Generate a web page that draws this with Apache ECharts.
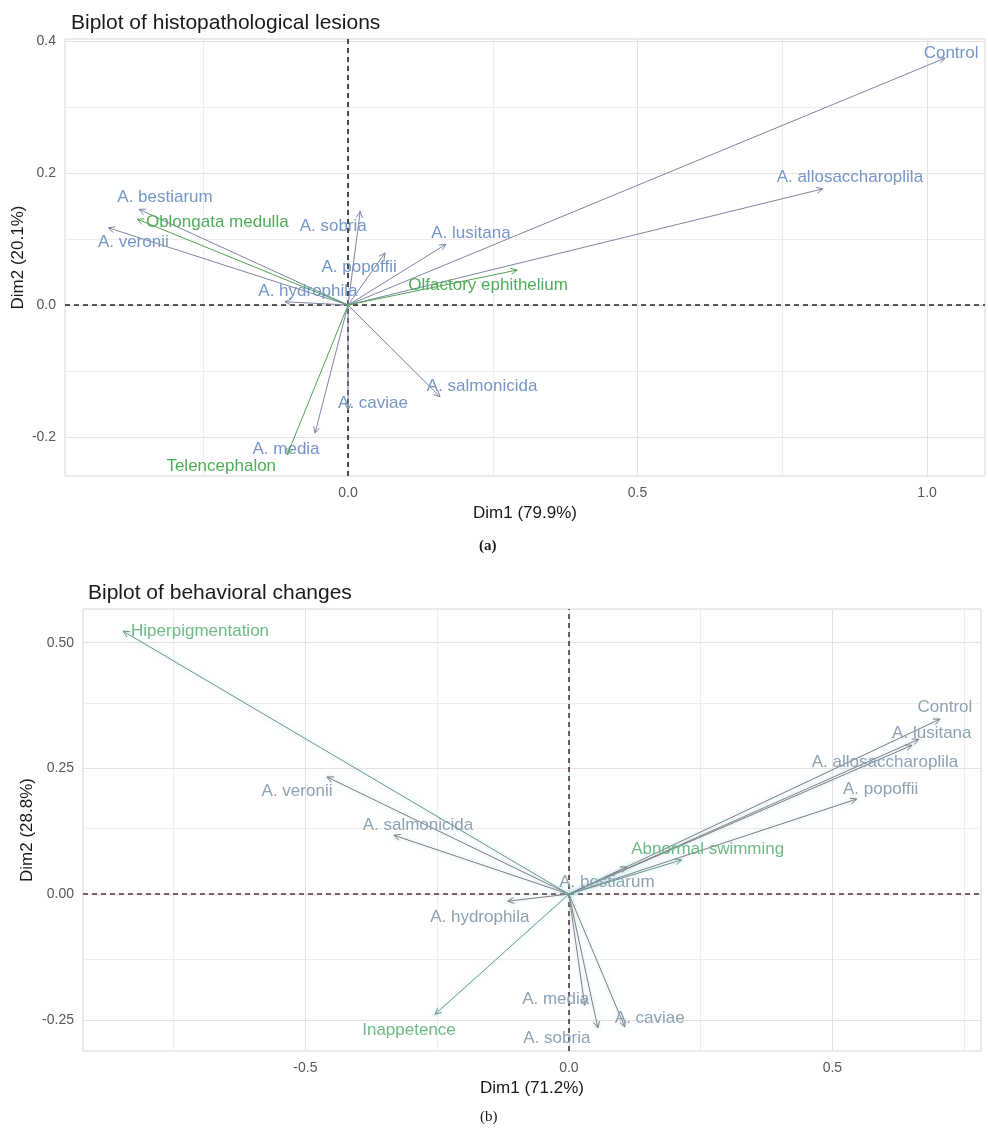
<!DOCTYPE html>
<html>
<head>
<meta charset="utf-8">
<script src="https://cdn.jsdelivr.net/npm/echarts@6/dist/echarts.min.js"></script>
<style>
  html, body { margin: 0; padding: 0; background: #ffffff; }
  #chart { width: 988px; height: 1129px; }
</style>
</head>
<body>
<div id="chart"></div>
<script>
// ---- Biplot (a): histopathological lesions ----
const histoSpecies = ['Control', 'A. allosaccharoplila', 'A. bestiarum', 'A. veronii', 'A. sobria',
  'A. lusitana', 'A. popoffii', 'A. hydrophila', 'A. media', 'A. caviae', 'A. salmonicida'];
const histoSpeciesDim1 = [1.031, 0.820, -0.361, -0.414, 0.021, 0.169, 0.064, -0.109, -0.057, 0.000, 0.159];
const histoSpeciesDim2 = [0.374, 0.176, 0.145, 0.117, 0.142, 0.092, 0.079, 0.005, -0.194, -0.159, -0.139];
const histoLesions = ['Oblongata medulla', 'Olfactory ephithelium', 'Telencephalon'];
const histoLesionsDim1 = [-0.364, 0.292, -0.105];
const histoLesionsDim2 = [0.130, 0.053, -0.227];
const histoXTicks = [0.0, 0.5, 1.0];
const histoXMinor = [-0.25, 0.25, 0.75];
const histoYTicks = [-0.2, 0.0, 0.2, 0.4];
const histoYMinor = [-0.1, 0.1, 0.3];

// ---- Biplot (b): behavioral changes ----
const behavSpecies = ['Control', 'A. lusitana', 'A. allosaccharoplila', 'A. popoffii', 'A. bestiarum',
  'A. veronii', 'A. salmonicida', 'A. hydrophila', 'A. media', 'A. sobria', 'A. caviae'];
const behavSpeciesDim1 = [0.704, 0.664, 0.651, 0.546, 0.110, -0.459, -0.332, -0.116, 0.030, 0.055, 0.106];
const behavSpeciesDim2 = [0.348, 0.308, 0.296, 0.189, 0.054, 0.233, 0.117, -0.014, -0.221, -0.266, -0.264];
const behavChanges = ['Hiperpigmentation', 'Abnormal swimming', 'Inappetence'];
const behavChangesDim1 = [-0.846, 0.214, -0.254];
const behavChangesDim2 = [0.523, 0.068, -0.239];
const behavXTicks = [-0.5, 0.0, 0.5];
const behavXMinor = [-0.75, -0.25, 0.25, 0.75];
const behavYTicks = [-0.25, 0.0, 0.25, 0.50];
const behavYMinor = [-0.125, 0.125, 0.375];

// Label nudges (pixels) so the names sit clear of the arrow heads
const labelNudge = {
  a: {
    'Control': [6, -5], 'A. allosaccharoplila': [27, -12], 'A. bestiarum': [26, -12],
    'A. veronii': [25, 15], 'A. sobria': [-27, 15], 'A. lusitana': [25, -11],
    'A. popoffii': [-26, 14], 'A. hydrophila': [23, -10], 'A. media': [-29, 16],
    'A. caviae': [25, -7], 'A. salmonicida': [42, -10],
    'Oblongata medulla': [80, 3], 'Olfactory ephithelium': [-29, 15], 'Telencephalon': [-66, 11]
  },
  b: {
    'Control': [5, -12], 'A. lusitana': [13, -6], 'A. allosaccharoplila': [-27, 17],
    'A. popoffii': [24, -10], 'A. bestiarum': [-20, 15], 'A. veronii': [-30, 14],
    'A. salmonicida': [24, -10], 'A. hydrophila': [-28, 16], 'A. media': [-29, -6],
    'A. sobria': [-41, 10], 'A. caviae': [25, -9],
    'Hiperpigmentation': [77, 0], 'Abnormal swimming': [26, -11], 'Inappetence': [-26, 16]
  }
};

const LABEL_FONT = '17px "Liberation Sans", Arial, sans-serif';

function pairs(xs, ys) { return xs.map((x, i) => [x, ys[i]]); }

// Arrow from the origin to each loading, with an open chevron head and its name
function arrowRenderer(names, nudges, lineColor, textColor, glow) {
  return function (params, api) {
    const i = params.dataIndex;
    const o = api.coord([0, 0]);
    const p = api.coord([api.value(0), api.value(1)]);
    const ang = Math.atan2(p[1] - o[1], p[0] - o[0]);
    const len = 7, spread = Math.PI / 7;
    const h1 = [p[0] - len * Math.cos(ang - spread), p[1] - len * Math.sin(ang - spread)];
    const h2 = [p[0] - len * Math.cos(ang + spread), p[1] - len * Math.sin(ang + spread)];
    const nd = nudges[names[i]] || [0, 0];
    const halo = glow ? { shadowBlur: 4, shadowColor: glow } : {};
    return {
      type: 'group',
      children: [
        { type: 'line', shape: { x1: o[0], y1: o[1], x2: p[0], y2: p[1] },
          style: Object.assign({ stroke: lineColor, lineWidth: 1 }, halo) },
        { type: 'polyline', shape: { points: [h1, p, h2] },
          style: Object.assign({ stroke: lineColor, fill: null, lineWidth: 1 }, halo) },
        { type: 'text', x: p[0] + nd[0], y: p[1] + nd[1],
          style: Object.assign({ text: names[i], fill: textColor, font: LABEL_FONT,
            align: 'center', verticalAlign: 'middle' }, halo) }
      ]
    };
  };
}

// Grid lines (major + minor) and the dashed zero lines, drawn through the axes
function gridMarks(xMajor, xMinor, yMajor, yMinor, zeroColor) {
  const data = [];
  xMinor.forEach(v => data.push({ xAxis: v, lineStyle: { color: '#f0ecec', width: 1, type: 'solid' } }));
  yMinor.forEach(v => data.push({ yAxis: v, lineStyle: { color: '#f0ecec', width: 1, type: 'solid' } }));
  xMajor.forEach(v => data.push({ xAxis: v, lineStyle: { color: '#e6e0e0', width: 1, type: 'solid' } }));
  yMajor.forEach(v => data.push({ yAxis: v, lineStyle: { color: '#e6e0e0', width: 1, type: 'solid' } }));
  data.push({ xAxis: 0, lineStyle: { color: zeroColor, width: 1.6, type: [5, 4] } });
  data.push({ yAxis: 0, lineStyle: { color: zeroColor, width: 1.6, type: [5, 4] } });
  return { silent: true, z: 1, symbol: ['none', 'none'], label: { show: false }, data: data };
}

function valueAxis(idx, min, max, ticks, digits, name, nameGap, isY) {
  const ax = {
    type: 'value', gridIndex: idx, min: min, max: max,
    name: name, nameLocation: 'middle', nameGap: nameGap, nameMoveOverlap: false,
    nameTextStyle: { fontSize: 17, color: '#1a1a1a', fontFamily: '"Liberation Sans", Arial, sans-serif' },
    axisLine: { show: false },
    axisTick: { show: true, length: 4, lineStyle: { color: '#bdb3b3' }, customValues: ticks },
    axisLabel: { customValues: ticks, fontSize: 14, color: '#5e5555', margin: isY ? 9 : 10,
      fontFamily: '"Liberation Sans", Arial, sans-serif',
      formatter: v => Number(v).toFixed(digits) },
    splitLine: { show: false }
  };
  if (isY) ax.nameRotate = 90;
  return ax;
}

const chart = echarts.init(document.getElementById('chart'), null, { renderer: 'canvas' });

chart.setOption({
  backgroundColor: '#ffffff',
  animation: false,
  title: [
    { text: 'Biplot of histopathological lesions', left: 66, top: 8,
      textStyle: { fontSize: 21, fontWeight: 'normal', color: '#1a1a1a', fontFamily: '"Liberation Sans", Arial, sans-serif' } },
    { text: 'Biplot of behavioral changes', left: 83, top: 578,
      textStyle: { fontSize: 21, fontWeight: 'normal', color: '#1a1a1a', fontFamily: '"Liberation Sans", Arial, sans-serif' } }
  ],
  grid: [
    { left: 65, top: 39, width: 920, height: 437, show: true, borderColor: '#dcd3d3', borderWidth: 1,
      backgroundColor: '#ffffff', containLabel: false, outerBoundsMode: 'none' },
    { left: 83, top: 609, width: 898, height: 442, show: true, borderColor: '#dcd3d3', borderWidth: 1,
      backgroundColor: '#ffffff', containLabel: false, outerBoundsMode: 'none' }
  ],
  xAxis: [
    valueAxis(0, -0.4888, 1.100, histoXTicks, 1, 'Dim1 (79.9%)', 29, false),
    valueAxis(1, -0.922, 0.782, behavXTicks, 1, 'Dim1 (71.2%)', 29, false)
  ],
  yAxis: [
    valueAxis(0, -0.259, 0.403, histoYTicks, 1, 'Dim2 (20.1%)', 38, true),
    valueAxis(1, -0.312, 0.567, behavYTicks, 2, 'Dim2 (28.8%)', 47, true)
  ],
  graphic: [
    { type: 'text', left: 479, top: 539,
      style: { text: '(a)', font: 'bold 15px "Liberation Serif", "Times New Roman", serif', fill: '#1a1a1a' } },
    { type: 'text', left: 480, top: 1110,
      style: { text: '(b)', font: '15px "Liberation Serif", "Times New Roman", serif', fill: '#1a1a1a' } }
  ],
  series: [
    { type: 'scatter', xAxisIndex: 0, yAxisIndex: 0, data: [[0, 0]], symbolSize: 0, silent: true, z: 1,
      markLine: gridMarks(histoXTicks, histoXMinor, histoYTicks, histoYMinor, '#222222') },
    { type: 'scatter', xAxisIndex: 1, yAxisIndex: 1, data: [[0, 0]], symbolSize: 0, silent: true, z: 1,
      markLine: gridMarks(behavXTicks, behavXMinor, behavYTicks, behavYMinor, '#4a3535') },
    { type: 'custom', xAxisIndex: 0, yAxisIndex: 0, z: 10, clip: false,
      data: pairs(histoSpeciesDim1, histoSpeciesDim2),
      renderItem: arrowRenderer(histoSpecies, labelNudge.a, '#7c86a3', '#7596c6', null) },
    { type: 'custom', xAxisIndex: 0, yAxisIndex: 0, z: 11, clip: false,
      data: pairs(histoLesionsDim1, histoLesionsDim2),
      renderItem: arrowRenderer(histoLesions, labelNudge.a, '#4ea453', '#4fae5a', null) },
    { type: 'custom', xAxisIndex: 1, yAxisIndex: 1, z: 10, clip: false,
      data: pairs(behavSpeciesDim1, behavSpeciesDim2),
      renderItem: arrowRenderer(behavSpecies, labelNudge.b, '#857a7c', '#8ea2b4', 'rgba(150,215,235,0.7)') },
    { type: 'custom', xAxisIndex: 1, yAxisIndex: 1, z: 11, clip: false,
      data: pairs(behavChangesDim1, behavChangesDim2),
      renderItem: arrowRenderer(behavChanges, labelNudge.b, '#6f9688', '#6dbb86', 'rgba(150,215,235,0.7)') }
  ]
});
</script>
</body>
</html>
